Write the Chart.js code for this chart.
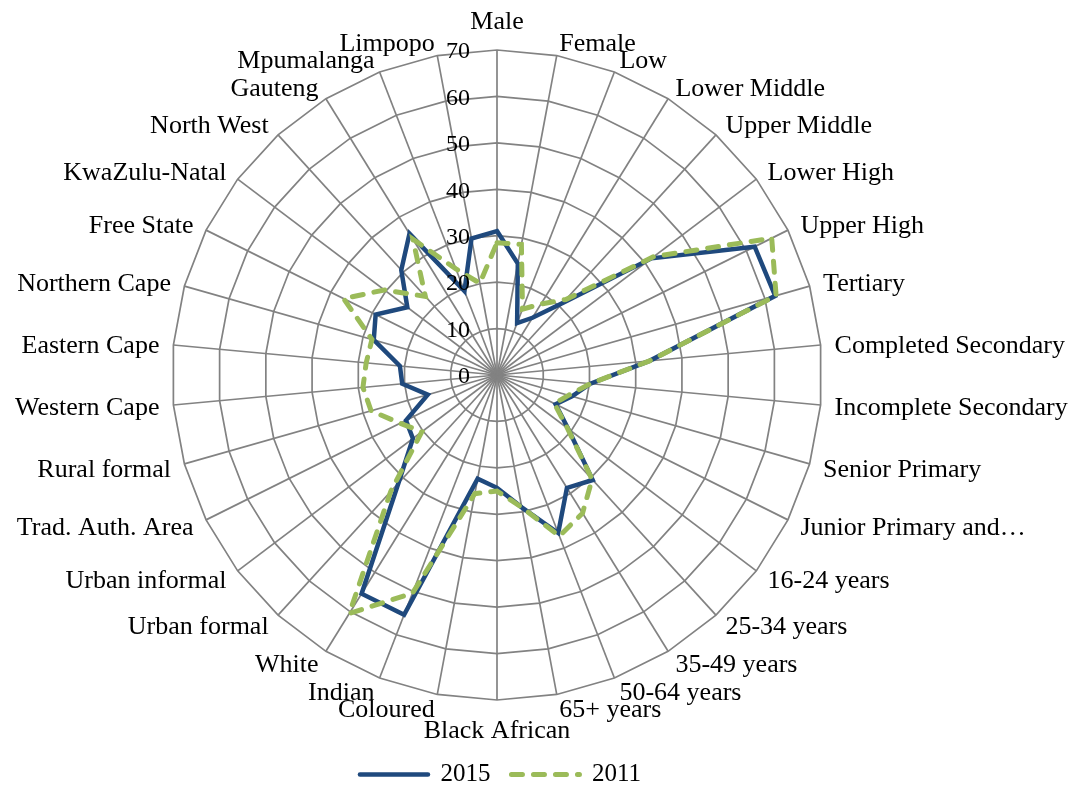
<!DOCTYPE html>
<html>
<head>
<meta charset="utf-8">
<script src="https://cdn.jsdelivr.net/npm/chart.js@4/dist/chart.umd.min.js"></script>
<style>
  body { margin: 0; background: #fff; }
</style>
</head>
<body>
<canvas id="radarChart" width="1081" height="787"></canvas>
<script>
// categories, clockwise from the top
const categories = ['Male', 'Female', 'Low', 'Lower Middle', 'Upper Middle', 'Lower High', 'Upper High',
    'Tertiary', 'Completed Secondary', 'Incomplete Secondary', 'Senior Primary', 'Junior Primary and…',
    '16-24 years', '25-34 years', '35-49 years', '50-64 years', '65+ years',
    'Black African', 'Coloured', 'Indian', 'White',
    'Urban formal', 'Urban informal', 'Trad. Auth. Area', 'Rural formal',
    'Western Cape', 'Eastern Cape', 'Northern Cape', 'Free State', 'KwaZulu-Natal',
    'North West', 'Gauteng', 'Mpumalanga', 'Limpopo'];

const values2015 = [31, 24.4, 12, 14.5, 21, 41.7, 62, 62.3, 33, 20.2, 16.8, 14.1,
    19.2, 30.6, 28.6, 36.5, 29, 24.3, 22.7, 55.4, 55.4,
    31.5, 22.7, 21.9, 15.5, 20.5, 21, 27.6, 29.2, 24.2, 30.6, 35.8, 19.4, 29.9];

const values2011 = [28.5, 28.6, 15.2, 18, 22, 42.3, 66.1, 62.5, 33, 20.2, 16, 13.8,
    19, 30.4, 35, 37.2, 29, 25, 26, 50.4, 60.4,
    34, 20.3, 23.3, 28.2, 29, 28.3, 28, 36.9, 30.4, 22.9, 34.4, 24.5, 20.1];

const scaleMin = 0;
const scaleMax = 70;
const scaleStep = 10;

// plot geometry (Excel puts the plot left of centre)
const plotX = 497;
const plotY = 375;
const plotR = 325;
const labelGap = 14;
const labelSize = 26;
const labelNudge = 2;

const serif = '"Liberation Serif", "Times New Roman", serif';

// pin the radar size and place labels Excel-style (vertically centred on the spoke)
function pinRadar(scale) {
    scale.xCenter = plotX;
    scale.yCenter = plotY;
    scale.drawingArea = plotR;
    const lh = labelSize * 1.2;
    const n = scale._pointLabels.length;
    scale._pointLabelItems = scale._pointLabels.map((txt, i) => {
        const p = scale.getPointPosition(i, plotR + labelGap);
        const deg = Math.round(i * 360 / n);
        let align = 'center';
        let cy = p.y + labelNudge;
        if (deg === 0) cy -= lh / 2;
        else if (deg === 180) cy += lh / 2;
        else align = deg < 180 ? 'left' : 'right';
        const top = cy - lh / 2;
        return { visible: true, x: p.x, y: top, textAlign: align,
                 left: p.x, right: p.x, top: top, bottom: top + lh };
    });
}

// tick labels sit left of the vertical axis, like in Excel
const tickLabels = {
    id: 'tickLabels',
    afterDatasetsDraw(chart) {
        const scale = chart.scales.r;
        const ctx = chart.ctx;
        ctx.save();
        ctx.font = '24px ' + serif;
        ctx.fillStyle = '#000';
        ctx.textAlign = 'right';
        ctx.textBaseline = 'middle';
        scale.ticks.forEach(t => {
            const d = scale.getDistanceFromCenterForValue(t.value);
            ctx.fillText(String(t.value), scale.xCenter - 27, scale.yCenter - d + 2);
        });
        ctx.restore();
    }
};

// legend sits under the plot centre, close to the bottom edge
const legendShift = {
    id: 'legendShift',
    afterLayout(chart) {
        chart.legend.left -= 40;
        chart.legend.right -= 40;
        chart.legend.top += 10;
        chart.legend.bottom += 10;
    }
};

const ctx = document.getElementById('radarChart').getContext('2d');
const radarChart = new Chart(ctx, {
    type: 'radar',
    data: {
        labels: categories,
        datasets: [{
            label: '2011',
            data: values2011,
            borderColor: '#9BBB59',
            borderWidth: 5,
            borderDash: [11, 11],
            borderCapStyle: 'round',
            fill: false,
            pointRadius: 0,
            tension: 0
        }, {
            label: '2015',
            data: values2015,
            borderColor: '#1F497D',
            borderWidth: 4.5,
            borderCapStyle: 'round',
            fill: false,
            pointRadius: 0,
            tension: 0
        }]
    },
    options: {
        responsive: false,
        animation: false,
        scales: {
            r: {
                min: scaleMin,
                max: scaleMax,
                ticks: {
                    stepSize: scaleStep,
                    display: false
                },
                grid: {
                    circular: false,
                    color: '#828282',
                    lineWidth: 1.7
                },
                angleLines: {
                    color: '#828282',
                    lineWidth: 1.7
                },
                pointLabels: {
                    color: '#000',
                    font: { family: serif, size: labelSize }
                },
                afterFit: pinRadar
            }
        },
        plugins: {
            legend: {
                position: 'bottom',
                reverse: true,
                labels: {
                    color: '#000',
                    font: { family: serif, size: 25 },
                    usePointStyle: true,
                    pointStyle: 'line',
                    pointStyleWidth: 68,
                    boxHeight: 10,
                    padding: 21,
                    generateLabels(chart) {
                        const items = Chart.defaults.plugins.legend.labels.generateLabels(chart);
                        items.forEach(it => {
                            const ds = chart.data.datasets[it.datasetIndex];
                            it.lineDash = ds.borderDash || [];
                            it.lineWidth = ds.borderWidth;
                            it.lineCap = 'round';
                            it.strokeStyle = ds.borderColor;
                        });
                        return items;
                    }
                }
            },
            tooltip: { enabled: false }
        }
    },
    plugins: [tickLabels, legendShift]
});
</script>
</body>
</html>
